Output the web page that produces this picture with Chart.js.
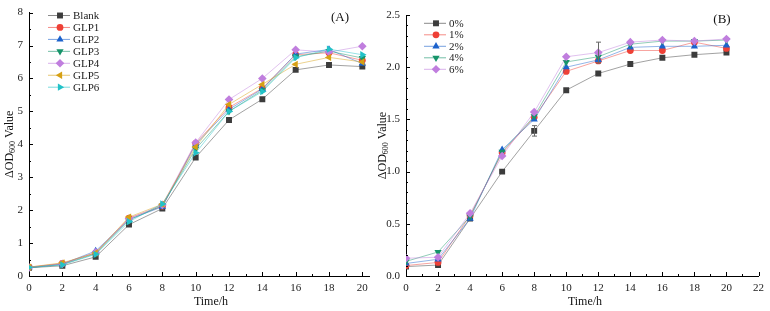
<!DOCTYPE html>
<html>
<head>
<meta charset="utf-8">
<script src="https://cdn.jsdelivr.net/npm/chart.js@4.4.0/dist/chart.umd.min.js"></script>
<style>
html, body { margin: 0; padding: 0; background: #fff; }
#wrap { position: relative; width: 770px; height: 311px; }
#chartA { position: absolute; left: 0; top: 0; }
#chartB { position: absolute; left: 376px; top: 0; }
</style>
</head>
<body>
<div id="wrap">
  <canvas id="chartA" width="376" height="311"></canvas>
  <canvas id="chartB" width="394" height="311"></canvas>
</div>
<script>
// ---- data (A) ----
const timeA = [0, 2, 4, 6, 8, 10, 12, 14, 16, 18, 20];
const namesA = ['Blank', 'GLP1', 'GLP2', 'GLP3', 'GLP4', 'GLP5', 'GLP6'];
const blankA = [0.25, 0.31, 0.58, 1.56, 2.05, 3.60, 4.74, 5.37, 6.26, 6.41, 6.36];
const glp1A  = [0.27, 0.38, 0.70, 1.76, 2.12, 4.03, 5.12, 5.70, 6.72, 6.78, 6.55];
const glp2A  = [0.26, 0.36, 0.76, 1.72, 2.10, 4.00, 5.06, 5.68, 6.74, 6.88, 6.45];
const glp3A  = [0.25, 0.35, 0.68, 1.70, 2.14, 3.86, 5.00, 5.64, 6.66, 6.83, 6.62];
const glp4A  = [0.26, 0.37, 0.72, 1.74, 2.16, 4.05, 5.36, 6.00, 6.87, 6.80, 6.98];
const glp5A  = [0.27, 0.40, 0.70, 1.79, 2.18, 3.92, 5.21, 5.82, 6.43, 6.64, 6.50];
const glp6A  = [0.26, 0.34, 0.66, 1.65, 2.19, 3.74, 5.00, 5.60, 6.63, 6.89, 6.72];

// ---- data (B) ----
const timeB = [0, 2, 4, 6, 8, 10, 12, 14, 16, 18, 20];
const namesB = ['0%', '1%', '2%', '4%', '6%'];
const conc0B = [0.09, 0.105, 0.55, 1.00, 1.39, 1.78, 1.94, 2.03, 2.09, 2.12, 2.14];
const conc1B = [0.10, 0.13, 0.58, 1.18, 1.52, 1.96, 2.06, 2.16, 2.16, 2.24, 2.18];
const conc2B = [0.12, 0.16, 0.55, 1.21, 1.50, 2.00, 2.07, 2.19, 2.20, 2.20, 2.21];
const conc4B = [0.14, 0.23, 0.57, 1.19, 1.53, 2.05, 2.10, 2.22, 2.25, 2.25, 2.26];
const conc6B = [0.17, 0.18, 0.60, 1.15, 1.57, 2.10, 2.14, 2.24, 2.26, 2.25, 2.27];
const err0B  = [0, 0, 0, 0, 0.05, 0, 0, 0, 0, 0, 0];
const err6B  = [0, 0, 0, 0, 0, 0, 0.10, 0, 0, 0, 0];

const FONT = '"Liberation Serif", "Times New Roman", serif';

// marker styles: [color, pointStyle, rotation, radius]
const styles = [
    ['#3c3c3c', 'rect', 0, 4.2],
    ['#ee4036', 'circle', 0, 3.4],
    ['#1c62cc', 'triangle', 0, 4.2],
    ['#17946a', 'triangle', 180, 4.2],
    ['#c07ede', 'rectRot', 0, 4.3],
    ['#d6a014', 'triangle', -90, 4.2],
    ['#22c2c8', 'triangle', 90, 4.2]
];

function makeSet(label, xs, ys, st, idx, total, errs) {
    return {
        label: label,
        data: xs.map((t, i) => ({ x: t, y: ys[i] })),
        borderColor: st[0] + '99',
        backgroundColor: st[0],
        borderWidth: 0.8,
        pointStyle: st[1],
        pointRotation: st[2],
        pointRadius: st[3],
        pointBorderWidth: 0,
        pointBackgroundColor: st[0],
        tension: 0,
        order: total - 1 - idx,
        errorBars: errs || null
    };
}

// inward ticks, axis titles, legend, panel label, error bars
const decoPlugin = {
    id: 'deco',
    afterDatasetsDraw(chart, args, opts) {
        const ctx = chart.ctx;
        const ys = chart.scales.y;
        ctx.save();
        ctx.strokeStyle = '#666';
        ctx.lineWidth = 1;
        chart.data.datasets.forEach((ds, di) => {
            if (!ds.errorBars) return;
            const meta = chart.getDatasetMeta(di);
            ds.errorBars.forEach((e, i) => {
                if (!e) return;
                const pt = meta.data[i];
                const y1 = ys.getPixelForValue(ds.data[i].y + e);
                const y2 = ys.getPixelForValue(ds.data[i].y - e);
                const px = Math.round(pt.x) + 0.5;
                ctx.beginPath();
                ctx.moveTo(px, y1); ctx.lineTo(px, y2);
                ctx.moveTo(px - 2.5, y1); ctx.lineTo(px + 2.5, y1);
                ctx.moveTo(px - 2.5, y2); ctx.lineTo(px + 2.5, y2);
                ctx.stroke();
            });
        });
        ctx.restore();
    },
    afterDraw(chart, args, opts) {
        const ctx = chart.ctx;
        const area = chart.chartArea;
        ctx.save();
        ctx.strokeStyle = '#000';
        ctx.lineWidth = 1;
        ['x', 'y'].forEach(k => {
            const sc = chart.scales[k];
            sc.ticks.forEach(t => {
                const len = t.label !== '' ? 4 : 2;
                const p = Math.round(sc.getPixelForValue(t.value)) + 0.5;
                ctx.beginPath();
                if (k === 'x') {
                    ctx.moveTo(p, area.bottom); ctx.lineTo(p, area.bottom - len);
                } else {
                    ctx.moveTo(area.left, p); ctx.lineTo(area.left + len, p);
                }
                ctx.stroke();
            });
        });

        ctx.fillStyle = '#111';
        // y title with subscript
        const cy = (area.top + area.bottom) / 2;
        ctx.save();
        ctx.translate(opts.yTitleX, cy);
        ctx.rotate(-Math.PI / 2);
        ctx.textBaseline = 'middle';
        ctx.textAlign = 'left';
        const main = '12px ' + FONT, sub = '8px ' + FONT;
        ctx.font = main;
        const w1 = ctx.measureText('ΔOD').width;
        const w3 = ctx.measureText(' Value').width;
        ctx.font = sub;
        const w2 = ctx.measureText('600').width;
        let sx = -(w1 + w2 + w3) / 2;
        ctx.font = main; ctx.fillText('ΔOD', sx, 0); sx += w1;
        ctx.font = sub; ctx.fillText('600', sx, 3); sx += w2;
        ctx.font = main; ctx.fillText(' Value', sx, 0);
        ctx.restore();

        // x title
        ctx.font = '12px ' + FONT;
        ctx.textAlign = 'center';
        ctx.textBaseline = 'middle';
        ctx.fillText('Time/h', opts.xTitleX, 302);

        // panel label
        ctx.font = '13px ' + FONT;
        ctx.fillText(opts.panel, opts.panelX, opts.panelY);

        // legend
        ctx.font = '11px ' + FONT;
        ctx.textAlign = 'left';
        chart.data.datasets.forEach((ds, i) => {
            const ly = opts.legY + i * opts.legStep;
            ctx.strokeStyle = ds.borderColor;
            ctx.lineWidth = 1;
            ctx.beginPath();
            ctx.moveTo(opts.legX - 12, ly);
            ctx.lineTo(opts.legX + 10, ly);
            ctx.stroke();
            ctx.fillStyle = ds.pointBackgroundColor;
            Chart.helpers.drawPoint(ctx, {
                pointStyle: ds.pointStyle,
                rotation: ds.pointRotation,
                radius: ds.pointRadius,
                borderWidth: 0
            }, opts.legX, ly);
            ctx.fillStyle = '#222';
            ctx.fillText(ds.label, opts.legX + 13, ly + 0.5);
        });
        ctx.restore();
    }
};

function axisOpts(min, max, step, isMajor, fmt, size, pad) {
    return {
        type: 'linear',
        min: min,
        max: max,
        grid: { display: true, drawOnChartArea: false, drawTicks: false, tickLength: 0 },
        border: { display: true, color: '#000', width: 1 },
        ticks: {
            stepSize: step,
            includeBounds: false,
            autoSkip: false,
            maxRotation: 0,
            padding: pad,
            color: '#222',
            font: { family: FONT, size: 11 },
            callback: function(v) { return isMajor(v) ? fmt(v) : ''; }
        },
        afterFit: function(scale) {
            if (scale.axis === 'x') scale.height = size; else scale.width = size;
        }
    };
}

const evenX = v => Math.round(v) % 2 === 0;
const intLabel = v => String(Math.round(v));

const colsA = [blankA, glp1A, glp2A, glp3A, glp4A, glp5A, glp6A];
const chartA = new Chart(document.getElementById('chartA'), {
    type: 'line',
    data: {
        datasets: colsA.map((ys, i) => makeSet(namesA[i], timeA, ys, styles[i], i, colsA.length))
    },
    options: {
        responsive: false,
        animation: false,
        layout: { padding: { top: 8, right: 7, left: 0, bottom: 0 } },
        scales: {
            x: axisOpts(0, 20.4, 1, evenX, intLabel, 35, 6),
            y: axisOpts(0, 8, 0.5, v => Math.abs(v - Math.round(v)) < 1e-6, intLabel, 29, 6)
        },
        plugins: {
            legend: { display: false },
            tooltip: { enabled: false },
            deco: { yTitleX: 10, xTitleX: 211, panel: '(A)', panelX: 340, panelY: 18, legX: 60, legY: 15.5, legStep: 11.95 }
        }
    },
    plugins: [decoPlugin]
});

const colsB = [conc0B, conc1B, conc2B, conc4B, conc6B];
const errsB = [err0B, null, null, null, err6B];
const stylesB = [styles[0], styles[1], styles[2], styles[3], styles[4]];
const chartB = new Chart(document.getElementById('chartB'), {
    type: 'line',
    data: {
        datasets: colsB.map((ys, i) => makeSet(namesB[i], timeB, ys, stylesB[i], i, colsB.length, errsB[i]))
    },
    options: {
        responsive: false,
        animation: false,
        layout: { padding: { top: 15, right: 8, left: 0, bottom: 0 } },
        scales: {
            x: axisOpts(0, 22, 1, evenX, intLabel, 35, 6),
            y: axisOpts(0, 2.5, 0.1, v => Math.round(v * 10) % 5 === 0, v => v.toFixed(1), 30, 6)
        },
        plugins: {
            legend: { display: false },
            tooltip: { enabled: false },
            deco: { yTitleX: 7, xTitleX: 209, panel: '(B)', panelX: 346, panelY: 20, legX: 60, legY: 23.3, legStep: 11.5 }
        }
    },
    plugins: [decoPlugin]
});
</script>
</body>
</html>
